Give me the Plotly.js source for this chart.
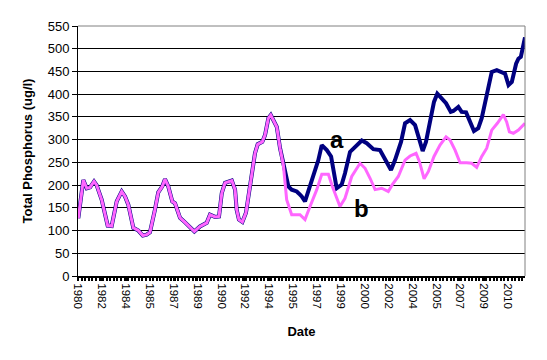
<!DOCTYPE html>
<html>
<head>
<meta charset="utf-8">
<script src="https://cdn.plot.ly/plotly-3.0.1.min.js"></script>
<style>html,body{margin:0;padding:0;background:#fff;}#chart{width:547px;height:360px;}</style>
</head>
<body>
<div id="chart"></div>
<script>
// Shared record (both series coincide until ~1995)
const commonYears = [1980.77,1981.12,1981.36,1981.59,1981.87,1982.05,1982.40,1982.82,1983.10,1983.45,1983.80,1984.03,1984.26,1984.61,1984.96,1985.27,1985.54,1985.77,1986.12,1986.35,1986.63,1986.82,1987.05,1987.33,1987.52,1987.87,1988.22,1988.50,1988.87,1989.26,1989.73,1989.96,1990.31,1990.59,1990.78,1991.01,1991.48,1991.71,1991.82,1991.98,1992.22,1992.47,1992.75,1993.10,1993.29,1993.61,1993.80,1994.03,1994.20,1994.38,1994.62,1994.85,1995.08];
const commonTP = [127,211,193,195,208,200,168,111,110,164,186,175,157,106,100,89,91,96,146,184,197,213,197,164,160,128,118,109,98,109,117,135,130,131,182,205,210,190,146,124,119,139,197,270,290,295,310,347,354,343,328,281,244];

// Series a after divergence
const aYears = [1995.43,1995.66,1996.01,1996.24,1996.36,1996.59,1996.94,1997.29,1997.52,1997.76,1998.11,1998.41,1998.68,1998.80,1999.15,1999.38,1999.73,2000.08,2000.55,2000.90,2001.36,2001.82,2002.17,2002.59,2002.87,2003.29,2003.57,2003.92,2004.27,2004.50,2004.80,2005.03,2005.31,2005.59,2005.82,2006.13,2006.43,2006.76,2006.94,2007.29,2007.52,2007.83,2008.11,2008.38,2008.68,2008.92,2009.27,2009.50,2009.62,2009.97,2010.32,2010.55,2010.79,2011.02,2011.32,2011.48,2011.65,2011.83,2011.94];
const aTP = [197,190,186,179,175,164,197,233,255,288,277,263,211,193,201,226,273,284,298,292,279,277,255,233,255,295,336,343,332,310,275,295,339,383,401,391,380,361,363,372,361,360,339,319,325,347,398,427,449,453,449,445,420,427,467,478,482,507,525];

// Series b after divergence
const bYears = [1995.31,1995.66,1996.24,1996.59,1996.94,1997.41,1997.76,1998.22,1998.50,1999.03,1999.38,1999.85,2000.43,2000.78,2001.13,2001.48,2001.94,2002.40,2002.68,2003.10,2003.57,2003.92,2004.34,2004.57,2004.90,2005.20,2005.59,2006.01,2006.43,2006.71,2007.06,2007.41,2007.87,2008.22,2008.57,2008.92,2009.27,2009.62,2010.01,2010.43,2010.66,2010.85,2011.13,2011.48,2011.94];
const bTP = [168,135,135,124,153,190,224,224,197,153,171,219,248,237,215,190,193,186,201,219,255,264,270,252,214,230,263,288,306,299,277,249,249,248,239,263,281,321,336,355,339,317,314,321,336];

// Category-style date tick labels (one every 20 months)
const tickLabels = ["1980","1982","1984","1985","1987","1989","1990","1992","1994","1995","1997","1999","2000","2002","2004","2005","2007","2009","2010"];
const firstTick = 1980.75;
const tickStep = 20/12;
const tickVals = tickLabels.map((_, i) => firstTick + i*tickStep);

const font = "Arial, 'Liberation Sans', sans-serif";

const traceA = {
  x: commonYears.concat(aYears), y: commonTP.concat(aTP),
  type: 'scatter', mode: 'lines', name: 'a',
  line: {color: '#000080', width: 4}, hoverinfo: 'skip'
};
const traceB = {
  x: commonYears.concat(bYears), y: commonTP.concat(bTP),
  type: 'scatter', mode: 'lines', name: 'b',
  line: {color: '#ff66ff', width: 3}, hoverinfo: 'skip'
};

const layout = {
  width: 547, height: 360,
  margin: {l: 78, r: 22, t: 26, b: 84},
  paper_bgcolor: '#ffffff', plot_bgcolor: '#ffffff',
  showlegend: false,
  font: {family: font, size: 12, color: '#000'},
  xaxis: {
    range: [1980.75, 2011.94],
    tickmode: 'array', tickvals: tickVals, ticktext: tickLabels,
    tickangle: 90, tickfont: {family: font, size: 11.5, color: '#000'},
    ticks: 'outside', ticklen: 3, tickwidth: 2, tickcolor: '#000',
    minor: {ticks: 'outside', ticklen: 3, tickwidth: 2, tickcolor: '#000', dtick: 0.25, tick0: 1980.75, showgrid: false},
    showline: true, linecolor: '#000', linewidth: 2,
    showgrid: false, zeroline: false,
    title: {text: 'Date', font: {family: font, size: 13, color: '#000', weight: 'bold'}, standoff: 18}
  },
  yaxis: {
    range: [0, 550], dtick: 50, tick0: 0,
    tickfont: {family: font, size: 13, color: '#000'},
    ticks: 'outside', ticklen: 5, tickcolor: '#000',
    showline: true, linecolor: '#000', linewidth: 1,
    showgrid: true, gridcolor: '#000', gridwidth: 1, zeroline: false,
    title: {text: 'Total Phosphorus (ug/l)', font: {family: font, size: 13, color: '#000', weight: 'bold'}, standoff: 12}
  },
  shapes: [
    {type: 'line', xref: 'paper', yref: 'paper', x0: 0, x1: 1, y0: 1, y1: 1, line: {color: '#808080', width: 1}},
    {type: 'line', xref: 'paper', yref: 'paper', x0: 1, x1: 1, y0: 0, y1: 1, line: {color: '#808080', width: 1}}
  ],
  annotations: [
    {x: 1998.79, y: 300, xref: 'x', yref: 'y', text: '<b>a</b>', showarrow: false, font: {family: font, size: 24, color: '#000'}},
    {x: 2000.5, y: 149, xref: 'x', yref: 'y', text: '<b>b</b>', showarrow: false, font: {family: font, size: 24, color: '#000'}}
  ]
};

Plotly.newPlot('chart', [traceA, traceB], layout, {displayModeBar: false, staticPlot: true});
</script>
</body>
</html>
